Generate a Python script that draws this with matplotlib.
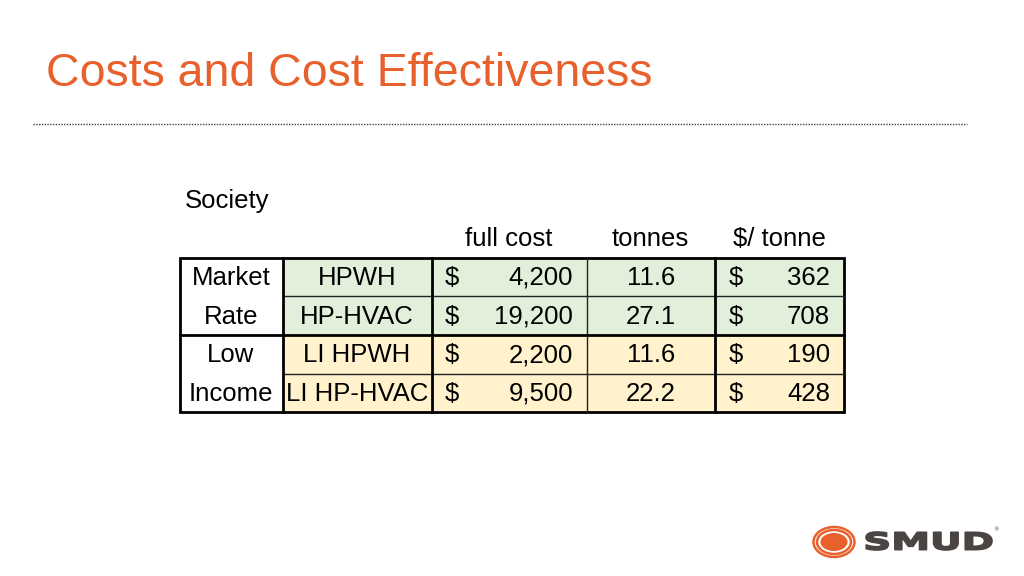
import matplotlib
matplotlib.use("Agg")
import matplotlib.pyplot as plt
from matplotlib.patches import Rectangle, Ellipse, PathPatch
from matplotlib.textpath import TextPath
from matplotlib.font_manager import FontProperties
from matplotlib.transforms import Affine2D

groups = [["Market", "Rate"], ["Low", "Income"]]
items = ["HPWH", "HP-HVAC", "LI HPWH", "LI HP-HVAC"]
full_cost = [4200, 19200, 2200, 9500]
tonnes = [11.6, 27.1, 11.6, 22.2]
per_tonne = [362, 708, 190, 428]
headers = ["full cost", "tonnes", "$/ tonne"]

TFONT = ["Liberation Sans", "DejaVu Sans"]

fig = plt.figure(figsize=(10.24, 5.76), dpi=100)
ax = fig.add_axes([0, 0, 1, 1])
ax.set_xlim(0, 1024)
ax.set_ylim(576, 0)
ax.axis("off")

# Title
ax.text(46, 74, "Costs and Cost Effectiveness", fontsize=33.5, color="#e8612c",
        family=["Liberation Sans", "DejaVu Sans"], va="center", ha="left")
ax.plot([33, 967], [124, 124], color="#444444", lw=1.0, ls=(0, (1, 1)))

# Table geometry
colx = [180, 283, 432, 587, 715, 844]
rowy = [258, 296, 335, 374, 412]
fs = 18.5
green = "#e2efda"
yellow = "#fff2cc"

for r in range(4):
    c = green if r < 2 else yellow
    ax.add_patch(Rectangle((colx[1], rowy[r]), colx[5] - colx[1], rowy[r + 1] - rowy[r],
                           facecolor=c, edgecolor="none"))

ax.text(185, 201, "Society", fontsize=fs, family=TFONT, ha="left", va="center")
hx = [509, 650, 779]
for h, x in zip(headers, hx):
    ax.text(x, 239, h, fontsize=fs, family=TFONT, ha="center", va="center")

# thin lines
for r in [1, 3]:
    ax.plot([colx[1], colx[5]], [rowy[r], rowy[r]], color="#222222", lw=1.0)
ax.plot([colx[3], colx[3]], [rowy[0], rowy[4]], color="#222222", lw=1.0)
# thick lines
ax.plot([colx[0], colx[5]], [rowy[2], rowy[2]], color="black", lw=2.0)
for x in [colx[1], colx[2], colx[4]]:
    ax.plot([x, x], [rowy[0], rowy[4]], color="black", lw=2.0)
ax.add_patch(Rectangle((colx[0], rowy[0]), colx[5] - colx[0], rowy[4] - rowy[0],
                       facecolor="none", edgecolor="black", lw=2.0))

for r in range(4):
    yc = (rowy[r] + rowy[r + 1]) / 2 + 1
    g = groups[r // 2][r % 2]
    ax.text(231, yc, g, fontsize=fs, family=TFONT, ha="center", va="center")
    ax.text(357, yc, items[r], fontsize=fs, family=TFONT, ha="center", va="center")
    ax.text(445, yc, "$", fontsize=fs, family=TFONT, ha="left", va="center")
    ax.text(573, yc, f"{full_cost[r]:,}", fontsize=fs, family=TFONT, ha="right", va="center")
    ax.text(651, yc, f"{tonnes[r]:.1f}", fontsize=fs, family=TFONT, ha="center", va="center")
    ax.text(729, yc, "$", fontsize=fs, family=TFONT, ha="left", va="center")
    ax.text(830, yc, f"{per_tonne[r]}", fontsize=fs, family=TFONT, ha="right", va="center")

# Logo
cx, cy = 834, 542
orange = "#e8612c"
ax.add_patch(Ellipse((cx, cy), 41, 30, facecolor="white", edgecolor=orange, lw=1.8))
ax.add_patch(Ellipse((cx, cy), 34, 24, facecolor="white", edgecolor=orange, lw=1.8))
ax.add_patch(Ellipse((cx, cy), 27, 18, facecolor=orange, edgecolor="none"))
tp = TextPath((0, 0), "SMUD", size=1, prop=FontProperties(family="DejaVu Sans", weight="bold"))
ext = tp.get_extents()
sx = 126 / ext.width
sy = 18 / ext.height
tr = Affine2D().translate(-ext.x0, -ext.y0).scale(sx, -sy).translate(866, 550)
ax.add_patch(PathPatch(tr.transform_path(tp), facecolor="#4a4543", edgecolor="#4a4543",
                       lw=1.2, joinstyle="round"))
ax.text(993, 530, "®", fontsize=4, color="#4a4543", ha="left", va="center")

fig.savefig("out.png", dpi=100)
